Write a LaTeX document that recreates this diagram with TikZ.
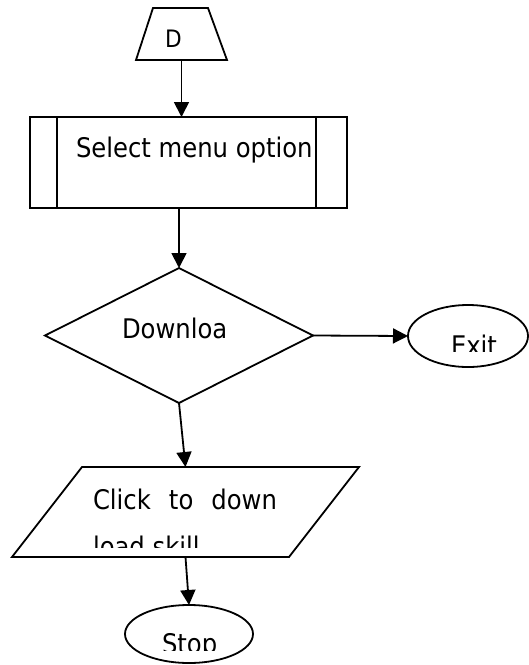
\documentclass[tikz,border=0pt]{standalone}
\usepackage{fontspec}
\setmainfont{DejaVu Sans Condensed}
\usetikzlibrary{shapes.geometric,arrows.meta,calc}
\tikzset{
  shp/.style={draw=black,line width=1.8pt,inner sep=0pt,outer sep=0pt},
  box/.style={draw=none,inner sep=0pt,outer sep=0pt,rectangle},
  conn/.style={draw=black,line width=1.8pt,-{Triangle[length=15pt,width=15pt]}},
  txt/.style={inner sep=0pt,outer sep=0pt,font=\fontsize{27}{32}\selectfont},
  smalltxt/.style={inner sep=0pt,outer sep=0pt,font=\fontsize{24}{28}\selectfont}
}
\begin{document}
\begin{tikzpicture}[x=1pt,y=-1pt]
\useasboundingbox (0,0) rectangle (529,665);
% start trapezoid
\node[box,minimum width=91pt,minimum height=52pt] (D) at (181.5,34) {};
\draw[shp] (D.south west) -- ([xshift=17pt]D.north west) -- ([xshift=-19pt]D.north east) -- (D.south east) -- cycle;
\node[smalltxt,anchor=base] (Dt) at (173.5,47) {D};
% predefined process box
\node[shp,rectangle,minimum width=317pt,minimum height=91pt] (sel) at (188.5,162.5) {};
\draw[shp] ([xshift=27pt]sel.north west) -- ([xshift=27pt]sel.south west);
\draw[shp] ([xshift=-31pt]sel.north east) -- ([xshift=-31pt]sel.south east);
\node[txt,anchor=base west] (selt) at (76,157) {Select menu option};
% decision
\node[shp,diamond,minimum width=268pt,minimum height=135pt] (dia) at (179,335.5) {};
\node[txt,anchor=base west] (diat) at (122,338) {Downloa};
% exit
\node[shp,ellipse,minimum width=120pt,minimum height=62pt] (ex) at (468,336) {};
\begin{scope}
\clip (400,300) rectangle (529,351.5);
\node[txt,anchor=base west] (ext) at (451,355) {Exit};
\end{scope}
% input/output
\node[box,minimum width=347pt,minimum height=90pt] (ck) at (185.5,512) {};
\draw[shp] (ck.south west) -- ([xshift=70pt]ck.north west) -- (ck.north east) -- ([xshift=-70pt]ck.south east) -- cycle;
\node[txt,anchor=base west] (ckt) at (93,509) {\makebox[184pt][s]{Click to down}};
\begin{scope}
\clip (80,520) rectangle (300,547);
\node[txt,anchor=base west] (ckt2) at (93,556) {load skill};
\end{scope}
% stop
\node[shp,ellipse,minimum width=128pt,minimum height=58pt] (st) at (189,634) {};
\begin{scope}
\clip (120,600) rectangle (260,650);
\node[txt,anchor=base west] (stt) at (162,653) {Stop};
\end{scope}
% connectors
\draw[conn] (D.south) -- (D.south |- sel.north);
\draw[conn] (dia.north |- sel.south) -- (dia.north);
\draw[conn] (dia.east) -- (ex.west);
\draw[conn] (dia.south) -- (ck.north);
\draw[conn] (ck.south) -- (st.north);
\end{tikzpicture}
\end{document}
